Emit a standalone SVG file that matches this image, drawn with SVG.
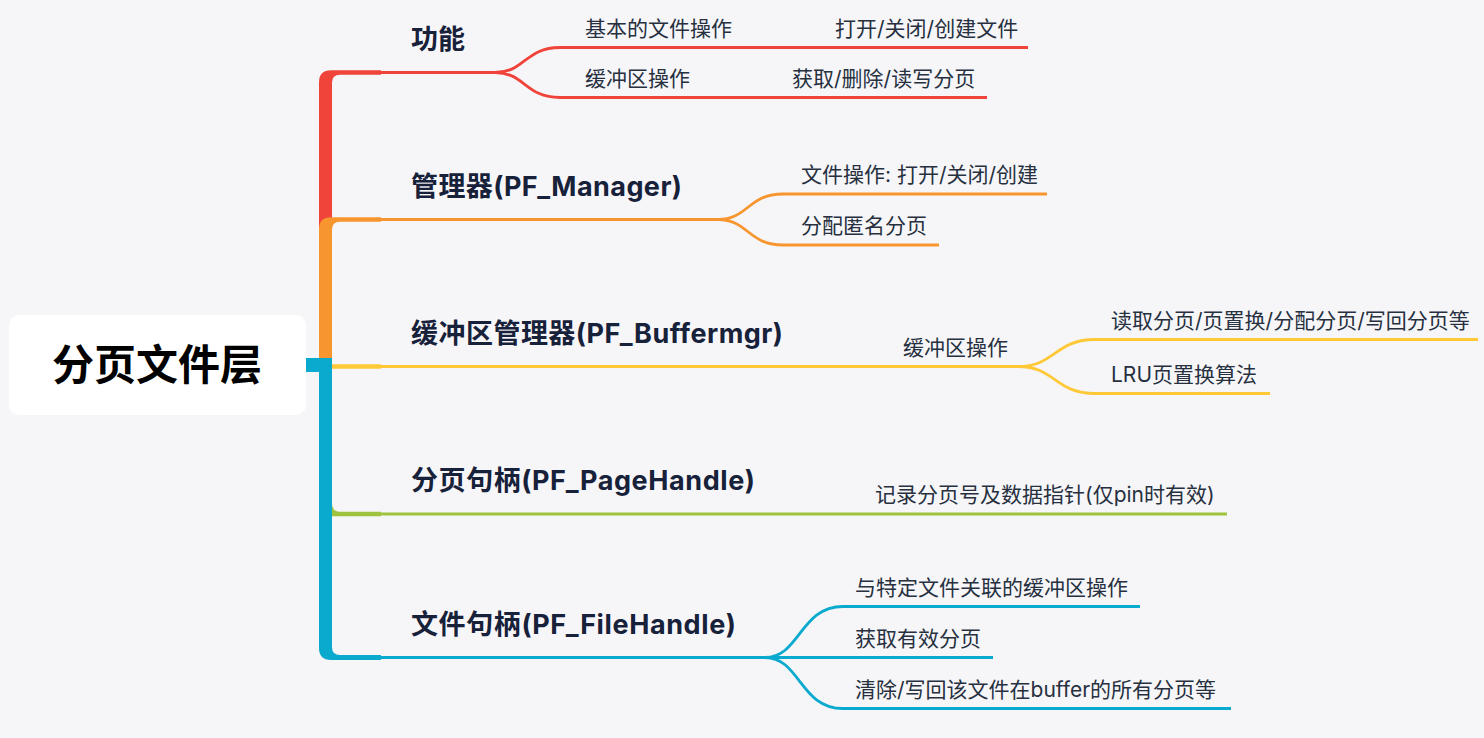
<svg xmlns="http://www.w3.org/2000/svg" width="1484" height="738" viewBox="0 0 1484 738">
<style>
.l1{font-family:Inter,"Noto Sans CJK SC",sans-serif;font-weight:700;font-size:27px;fill:#172139}
.l2{font-family:Inter,"Noto Sans CJK SC",sans-serif;font-weight:400;font-size:21px;fill:#26303f}
.root{font-family:"Noto Sans CJK SC",sans-serif;font-weight:700;font-size:42px;fill:#000}
.ln{fill:none;stroke-width:2.8;stroke-linecap:butt}
.red{stroke:#F0433A}.org{stroke:#F7962F}.yel{stroke:#FEC836}.grn{stroke:#9DC33F}.blu{stroke:#0AAACE}
</style>
<rect width="1484" height="738" fill="#F6F6F9"/>
<g id="connectors">
<path d="M306 372 L306 358 L319 358 L319 82.2 Q319 70.2 331 70.2 L381 70.2 L381 74.8 L340 74.8 Q332 74.8 332 82.8 L332 372 Z" fill="#F0433A"/>
<path d="M306 372 L306 358 L319 358 L319 229.2 Q319 217.2 331 217.2 L381 217.2 L381 221.8 L340 221.8 Q332 221.8 332 229.8 L332 372 Z" fill="#F7962F"/>
<path d="M306 364.2 L381 364.2 L381 368.8 L306 368.8 Z" fill="#FEC836"/>
<path d="M306 358 L332 358 L332 503.7 Q332 511.7 340 511.7 L381 511.7 L381 516.3 L331 516.3 Q319 516.3 319 504.3 L319 372 L306 372 Z" fill="#9DC33F"/>
<path d="M306 358 L332 358 L332 647 Q332 655 340 655 L381 655 L381 660 L331 660 Q319 660 319 648 L319 372 L306 372 Z" fill="#0AAACE"/>
<path class="ln red" d="M381 72.5 L495 72.5 M495 72.5 C525 72.5 525 47.5 560 47.5 L1028 47.5 M495 72.5 C525 72.5 525 97.5 560 97.5 L987 97.5"/>
<path class="ln org" d="M381 219.5 L718 219.5 M718 219.5 C748 219.5 748 194 783 194 L1047 194 M718 219.5 C748 219.5 748 245 783 245 L939 245"/>
<path class="ln yel" d="M381 366.5 L1018 366.5 M1018 366.5 C1055 366.5 1055 339.5 1095 339.5 L1478 339.5 M1018 366.5 C1055 366.5 1055 393.5 1095 393.5 L1270 393.5"/>
<path class="ln grn" d="M381 514 L1227 514"/>
<path class="ln blu" d="M381 657.5 L765 657.5 M765 657.5 C800 657.5 800 606.5 843 606.5 L1140 606.5 M765 657.5 L993 657.5 M765 657.5 C800 657.5 800 708.5 843 708.5 L1231 708.5"/>
</g>
<g id="root">
<rect x="9" y="315" width="297" height="100" rx="10" fill="#FFFFFF"/>
<text class="root" x="157" y="380" text-anchor="middle">分页文件层</text>
</g>
<g id="n-func">
<text class="l1" x="411" y="48.8">功能</text>
</g>
<g id="n-func-1"><text class="l2" x="585" y="35.5">基本的文件操作</text></g>
<g id="n-func-1-1"><text class="l2" x="835" y="35.5">打开/关闭/创建文件</text></g>
<g id="n-func-2"><text class="l2" x="585" y="85.5">缓冲区操作</text></g>
<g id="n-func-2-1"><text class="l2" x="792" y="85.5">获取/删除/读写分页</text></g>
<g id="n-mgr"><text class="l1" x="411" y="195.8" textLength="271">管理器(PF_Manager)</text></g>
<g id="n-mgr-1"><text class="l2" x="801" y="182">文件操作: 打开/关闭/创建</text></g>
<g id="n-mgr-2"><text class="l2" x="801" y="233">分配匿名分页</text></g>
<g id="n-buf"><text class="l1" x="411" y="342.8" textLength="372">缓冲区管理器(PF_Buffermgr)</text></g>
<g id="n-buf-1"><text class="l2" x="903" y="354.5">缓冲区操作</text></g>
<g id="n-buf-1-1"><text class="l2" x="1111" y="327.5">读取分页/页置换/分配分页/写回分页等</text></g>
<g id="n-buf-1-2"><text class="l2" x="1111" y="381.5">LRU页置换算法</text></g>
<g id="n-page"><text class="l1" x="411" y="490.3" textLength="344">分页句柄(PF_PageHandle)</text></g>
<g id="n-page-1"><text class="l2" x="875" y="502">记录分页号及数据指针(仅pin时有效)</text></g>
<g id="n-file"><text class="l1" x="411" y="633.8" textLength="325">文件句柄(PF_FileHandle)</text></g>
<g id="n-file-1"><text class="l2" x="855" y="594.5">与特定文件关联的缓冲区操作</text></g>
<g id="n-file-2"><text class="l2" x="855" y="645.5">获取有效分页</text></g>
<g id="n-file-3"><text class="l2" x="855" y="696.5">清除/写回该文件在buffer的所有分页等</text></g>
</svg>
